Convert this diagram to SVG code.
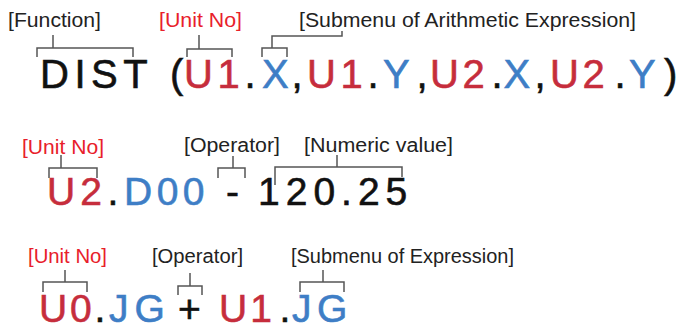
<svg xmlns="http://www.w3.org/2000/svg" width="680" height="332" viewBox="0 0 680 332">
<style>
.lbl{font-family:"Liberation Sans",Arial,sans-serif;font-size:20px;fill:#222}
.lr{fill:#e8202a}
.big{font-family:"Liberation Sans",Arial,sans-serif;fill:#111;stroke-width:0.6}
.r{fill:#c62d3c;stroke:#c62d3c}
.b{fill:#3e7ec6;stroke:#3e7ec6}
.k{fill:#111;stroke:#111}
.br{fill:none;stroke:#555;stroke-width:1.5}
</style>
<rect width="680" height="332" fill="#fff"/>
<g id="row1">
<g id="r1-labels">
<text class="lbl" x="8" y="27" textLength="93" lengthAdjust="spacingAndGlyphs">[Function]</text>
<text class="lbl lr" x="159" y="27" textLength="83" lengthAdjust="spacingAndGlyphs">[Unit No]</text>
<text class="lbl" x="299" y="27" textLength="337" lengthAdjust="spacingAndGlyphs">[Submenu of Arithmetic Expression]</text>
</g>
<text id="r1-expr" class="big" y="88" font-size="40"><tspan class="k" x="40" letter-spacing="5.5">DIST</tspan><tspan class="k" x="170">(</tspan><tspan class="r" x="184" letter-spacing="4.5">U1</tspan><tspan class="k" x="244.5">.</tspan><tspan class="b" x="262">X</tspan><tspan class="k" x="291.5">,</tspan><tspan class="r" x="307" letter-spacing="4.5">U1</tspan><tspan class="k" x="367.5">.</tspan><tspan class="b" x="383">Y</tspan><tspan class="k" x="416.5">,</tspan><tspan class="r" x="430" letter-spacing="3.5">U2</tspan><tspan class="k" x="491.5">.</tspan><tspan class="b" x="503.5">X</tspan><tspan class="k" x="534.5">,</tspan><tspan class="r" x="550" letter-spacing="3.5">U2</tspan><tspan class="k" x="614.5">.</tspan><tspan class="b" x="629">Y</tspan><tspan class="k" x="664">)</tspan></text>
</g>
<g id="row2">
<g id="r2-labels">
<text class="lbl lr" x="22" y="154" textLength="82" lengthAdjust="spacingAndGlyphs">[Unit No]</text>
<text class="lbl" x="184" y="152" textLength="96" lengthAdjust="spacingAndGlyphs">[Operator]</text>
<text class="lbl" x="304" y="152" textLength="149" lengthAdjust="spacingAndGlyphs">[Numeric value]</text>
</g>
<text id="r2-expr" class="big" y="205" font-size="39"><tspan class="r" x="47" letter-spacing="5">U2</tspan><tspan class="k" x="107.5">.</tspan><tspan class="b" x="124" letter-spacing="4.5">D00</tspan><tspan class="k" x="226">-</tspan><tspan class="k" x="258" letter-spacing="6">120.25</tspan></text>
</g>
<g id="row3">
<g id="r3-labels">
<text class="lbl lr" x="28" y="263" textLength="79" lengthAdjust="spacingAndGlyphs">[Unit No]</text>
<text class="lbl" x="152" y="263" textLength="91" lengthAdjust="spacingAndGlyphs">[Operator]</text>
<text class="lbl" x="291" y="263" textLength="223" lengthAdjust="spacingAndGlyphs">[Submenu of Expression]</text>
</g>
<text id="r3-expr" class="big" y="322" font-size="39"><tspan class="r" x="39" letter-spacing="2.8">U0</tspan><tspan class="k" x="94.5">.</tspan><tspan class="b" x="109" letter-spacing="6">JG</tspan><tspan class="k" x="178">+</tspan><tspan class="r" x="219" letter-spacing="3">U1</tspan><tspan class="k" x="279.5">.</tspan><tspan class="b" x="292" letter-spacing="5.5">JG</tspan></text>
</g>
<g id="connectors">
<path class="br" d="M37,57V48H133V57M53,48V35"/>
<path class="br" d="M187,57V49H232V57M199,49V35"/>
<path class="br" d="M262,57V48H287V57M272,48V36H342V31"/>
<path class="br" d="M49,178V168H97V178M61,168V155"/>
<path class="br" d="M218,178V168H245V178M233,168V156"/>
<path class="br" d="M275,185V167H402V177M337,167V155"/>
<path class="br" d="M43,292V282H87V292M65,282V270"/>
<path class="br" d="M178,295V286H202V295M190,286V273"/>
<path class="br" d="M300,292V282H344V292M323,282V270"/>
</g>
</svg>
